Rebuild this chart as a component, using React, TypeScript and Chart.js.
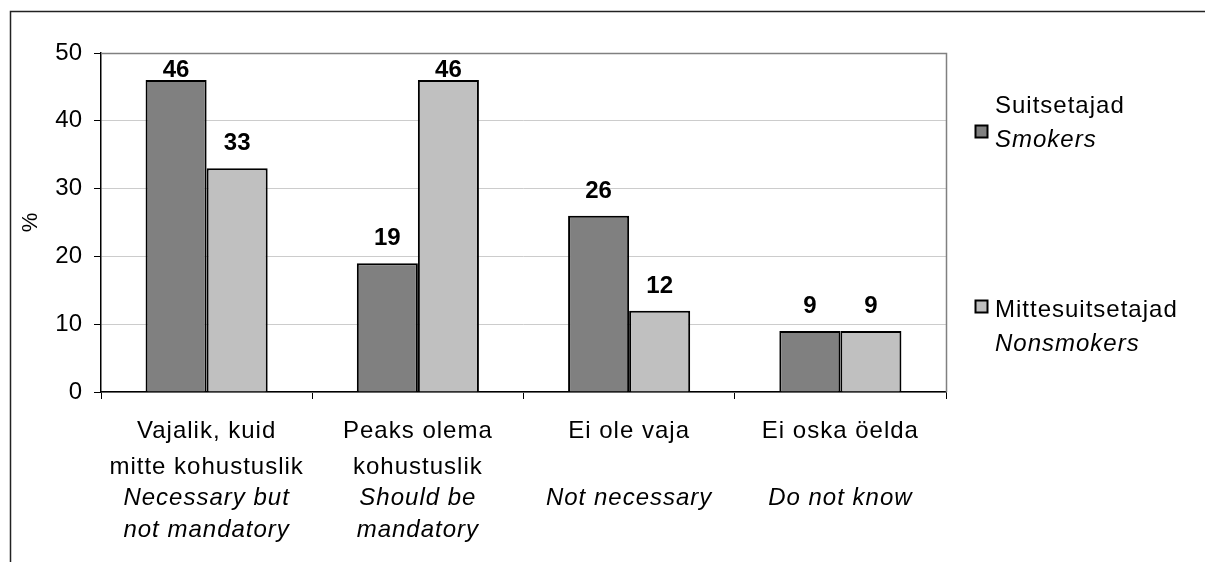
import React, { useEffect, useRef } from "react";
import { Chart, registerables } from "chart.js";

Chart.register(...registerables);

const categoriesEt: string[][] = [
  ["Vajalik, kuid", "mitte kohustuslik"],
  ["Peaks olema", "kohustuslik"],
  ["Ei ole vaja", ""],
  ["Ei oska öelda", ""],
];
const categoriesEn: string[][] = [
  ["Necessary but", "not mandatory"],
  ["Should be", "mandatory"],
  ["Not necessary", ""],
  ["Do not know", ""],
];
const seriesNamesEt = ["Suitsetajad", "Mittesuitsetajad"];
const seriesNamesEn = ["Smokers", "Nonsmokers"];
const smokers = [46, 19, 26, 9];
const nonsmokers = [33, 46, 12, 9];
const seriesColors = ["#808080", "#c0c0c0"];
const yTicks = [0, 10, 20, 30, 40, 50];
const yTitle = "%";

const FONT = '"Liberation Sans", Arial, sans-serif';

const framePlugin = {
  id: "frame",
  beforeDraw(chart: any) {
    const ctx = chart.ctx;
    ctx.save();
    ctx.fillStyle = "#ffffff";
    ctx.fillRect(0, 0, chart.width, chart.height);
    ctx.strokeStyle = "#222";
    ctx.lineWidth = 1.5;
    ctx.beginPath();
    ctx.moveTo(10.5, chart.height);
    ctx.lineTo(10.5, 11.5);
    ctx.lineTo(chart.width, 11.5);
    ctx.stroke();
    ctx.restore();
  },
  afterDraw(chart: any) {
    const { ctx, chartArea } = chart;
    ctx.save();
    ctx.strokeStyle = "#808080";
    ctx.lineWidth = 1.5;
    ctx.beginPath();
    ctx.moveTo(chartArea.left, chartArea.top + 0.5);
    ctx.lineTo(chartArea.right + 0.5, chartArea.top + 0.5);
    ctx.lineTo(chartArea.right + 0.5, chartArea.bottom);
    ctx.stroke();
    ctx.fillStyle = "#000";
    ctx.font = `22px ${FONT}`;
    ctx.textAlign = "center";
    ctx.textBaseline = "middle";
    ctx.translate(31, (chartArea.top + chartArea.bottom) / 2);
    ctx.rotate(-Math.PI / 2);
    ctx.fillText(yTitle, 0, 0);
    ctx.restore();
  },
};

const labelsPlugin = {
  id: "labels",
  afterDatasetsDraw(chart: any) {
    const { ctx, chartArea } = chart;
    ctx.save();
    ctx.fillStyle = "#000";
    ctx.textAlign = "center";
    ctx.textBaseline = "alphabetic";
    (ctx as any).letterSpacing = "0px";
    ctx.font = `bold 24px ${FONT}`;
    chart.data.datasets.forEach((ds: any, di: number) => {
      const meta = chart.getDatasetMeta(di);
      meta.data.forEach((bar: any, i: number) => {
        const y = Math.max(bar.y - 18, chartArea.top + 24);
        ctx.fillText(String(ds.data[i]), bar.x, y);
      });
    });

    const xScale = chart.scales.x;
    const offsets = [46, 82, 113, 145];
    (ctx as any).letterSpacing = "1px";
    categoriesEt.forEach((et, i) => {
      const cx = xScale.getPixelForValue(i);
      const lines = [et[0], et[1], categoriesEn[i][0], categoriesEn[i][1]];
      lines.forEach((t, li) => {
        if (!t) return;
        ctx.font = `${li >= 2 ? "italic " : ""}24px ${FONT}`;
        ctx.fillText(t, cx, chartArea.bottom + offsets[li]);
      });
    });

    const lx = chartArea.right + 29;
    const tx = chartArea.right + 49;
    const entries = [
      { base: 113, sq: 125 },
      { base: 317, sq: 300 },
    ];
    entries.forEach((e, i) => {
      ctx.fillStyle = seriesColors[i];
      ctx.fillRect(lx, e.sq, 12, 12);
      ctx.strokeStyle = "#000";
      ctx.lineWidth = 2;
      ctx.strokeRect(lx + 0.5, e.sq + 0.5, 12, 12);
      ctx.fillStyle = "#000";
      ctx.textAlign = "left";
      ctx.font = `24px ${FONT}`;
      ctx.fillText(seriesNamesEt[i], tx, e.base);
      ctx.font = `italic 24px ${FONT}`;
      ctx.fillText(seriesNamesEn[i], tx, e.base + 34);
    });
    ctx.restore();
  },
};

export default function App() {
  const ref = useRef<HTMLCanvasElement | null>(null);
  useEffect(() => {
    if (!ref.current) return;
    const chart = new Chart(ref.current, {
      type: "bar",
      data: {
        labels: categoriesEt.map((c) => c.filter(Boolean).join(" ")),
        datasets: [
          {
            label: seriesNamesEt[0],
            data: smokers,
            backgroundColor: seriesColors[0],
            borderColor: "#000",
            borderWidth: 2,
            categoryPercentage: 0.578,
            barPercentage: 1.0,
          },
          {
            label: seriesNamesEt[1],
            data: nonsmokers,
            backgroundColor: seriesColors[1],
            borderColor: "#000",
            borderWidth: 2,
            categoryPercentage: 0.578,
            barPercentage: 1.0,
          },
        ],
      },
      options: {
        responsive: false,
        animation: false,
        layout: { padding: { left: 0, top: 53, right: 259, bottom: 0 } },
        plugins: {
          legend: { display: false },
          tooltip: { enabled: false },
          title: { display: false },
        },
        scales: {
          x: {
            ticks: { display: false },
            grid: {
              drawOnChartArea: false,
              drawTicks: true,
              tickLength: 7,
              color: "#000",
              tickColor: "#000",
              lineWidth: 1,
            },
            border: { color: "#000", width: 1.5 },
            afterFit: (scale: any) => {
              scale.height = 170;
            },
          },
          y: {
            min: yTicks[0],
            max: yTicks[yTicks.length - 1],
            afterBuildTicks: (scale: any) => {
              scale.ticks = yTicks.map((v) => ({ value: v }));
            },
            ticks: {
              color: "#000",
              font: { family: FONT, size: 24 },
              padding: 12,
            },
            grid: {
              color: "#cccccc",
              tickColor: "#000",
              tickLength: 7,
              lineWidth: 1,
            },
            border: { color: "#000", width: 1.5 },
            afterFit: (scale: any) => {
              scale.width = 101;
            },
          },
        },
      },
      plugins: [framePlugin, labelsPlugin],
    });
    return () => chart.destroy();
  }, []);
  return (
    <div style={{ position: "fixed", left: 0, top: 0, width: 1205, height: 562, background: "#fff" }}>
      <canvas ref={ref} width={1205} height={562} style={{ display: "block" }} />
    </div>
  );
}
